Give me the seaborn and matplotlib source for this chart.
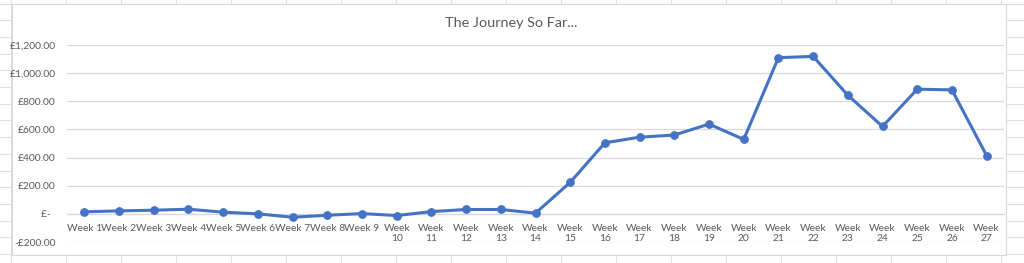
import matplotlib
matplotlib.use("Agg")
import matplotlib.pyplot as plt
import seaborn as sns
import pandas as pd
import numpy as np
from matplotlib.patches import Rectangle
from matplotlib import font_manager

weeks = [f"Week {i}" for i in range(1, 28)]
values = [15, 21, 26, 33, 12, 0, -24, -10, 2, -12, 16, 31, 31, 5,
          224, 505, 545, 560, 638, 529, 1110, 1119, 843, 621, 886, 881, 414]
ytick_values = [-200, 0, 200, 400, 600, 800, 1000, 1200]
ytick_labels = ["-£200.00", "£-  ", "£200.00", "£400.00", "£600.00",
                "£800.00", "£1,000.00", "£1,200.00"]
title = "The Journey So Far..."

sns.set_theme(style="white")
names = {f.name for f in font_manager.fontManager.ttflist}
narrow = "Liberation Sans Narrow" in names
plt.rcParams["font.family"] = ["Lato", "DejaVu Sans"]
tick_family = ["Liberation Sans Narrow", "DejaVu Sans"] if narrow else ["Lato", "DejaVu Sans"]
tick_size = 8.2 if narrow else 7.4

W, H = 1024, 263
fig = plt.figure(figsize=(W / 100, H / 100), dpi=100)
fig.patch.set_facecolor("white")

# spreadsheet background grid
bg = fig.add_axes([0, 0, 1, 1], zorder=0)
bg.set_xlim(0, W)
bg.set_ylim(H, 0)
bg.set_xticks(np.arange(11, W, 55))
bg.set_yticks(np.arange(3.5, H, 16.7))
bg.grid(True, color="#e1e1e1", linewidth=0.8)
bg.tick_params(length=0, labelbottom=False, labelleft=False)
for s in bg.spines.values():
    s.set_visible(False)
bg.add_patch(Rectangle((12, 4), 994, 251, facecolor="white",
                       edgecolor="#d9d9d9", linewidth=0.8, zorder=3))

df = pd.DataFrame({"week": weeks, "value": values})

left, right = 67 / W, 1004 / W
bottom, top = (H - 242) / H, (H - 45) / H
ax = fig.add_axes([left, bottom, right - left, top - bottom], zorder=2)
ax.patch.set_alpha(0)

sns.lineplot(data=df, x="week", y="value", sort=False, ax=ax,
             color="#4472C4", linewidth=2.2, marker="o", markersize=5.5,
             markeredgecolor="#4472C4", zorder=5)

ax.set_xlim(-0.5, len(weeks) - 0.5)
ax.set_ylim(-200, 1200)
ax.set_yticks(ytick_values)
ax.set_yticklabels(ytick_labels, family=tick_family)
xlabels = [w if i < 9 else w.replace(" ", "\n") for i, w in enumerate(weeks)]
ax.set_xticks(range(len(weeks)))
ax.set_xticklabels(xlabels, linespacing=1.15, family=tick_family)
ax.yaxis.grid(True, color="#d9d9d9", linewidth=0.9)
ax.xaxis.grid(False)
for s in ["top", "right", "left"]:
    ax.spines[s].set_visible(False)
ax.spines["bottom"].set_position(("data", 0))
ax.spines["bottom"].set_color("#d9d9d9")
ax.spines["bottom"].set_linewidth(0.9)
ax.tick_params(axis="both", length=0, colors="#595959", labelsize=tick_size)
ax.tick_params(axis="y", pad=8)
ax.tick_params(axis="x", pad=7)
ax.set_xlabel("")
ax.set_ylabel("")

fig.text(511 / W, (H - 23) / H, title, ha="center", va="center",
         fontsize=10.4, color="#595959")

fig.savefig("out.png", dpi=100)
